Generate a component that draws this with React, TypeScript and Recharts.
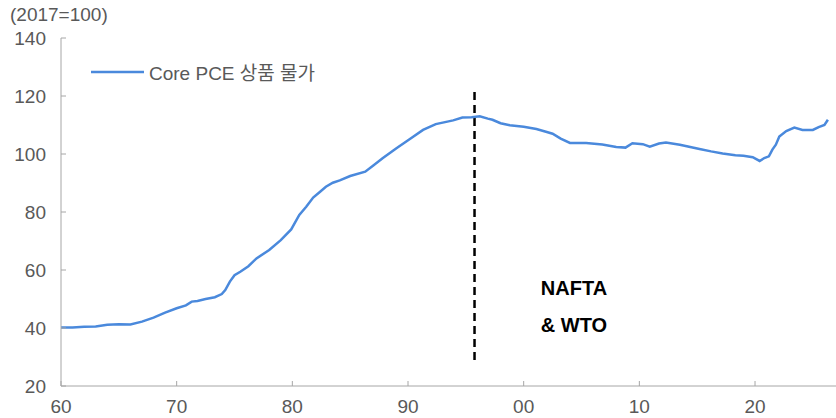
import { Legend, Line, LineChart, ReferenceLine, XAxis, YAxis } from "recharts";

// Core PCE goods price index (2017=100)
const years = [
  1960, 1961, 1962, 1963, 1964, 1965, 1966, 1967, 1968, 1969, 1970, 1970.8, 1971.3, 1971.8, 1972.5, 1973.3,
  1973.9, 1974.2, 1974.6, 1975.0, 1975.5, 1976.2, 1976.9, 1978.0, 1979.0, 1979.9, 1980.6, 1981.2, 1981.8, 1982.4,
  1982.9, 1983.5, 1984.1, 1985.0, 1986.3, 1987.0, 1987.8, 1989.0, 1990.1, 1991.3, 1992.4, 1993.2, 1993.9, 1994.7,
  1995.5, 1996.2, 1996.9, 1997.3, 1998.0, 1998.8, 2000.0, 2001.1, 2002.0, 2002.5, 2003.2, 2004.0, 2005.4, 2006.8,
  2008.0, 2008.8, 2009.4, 2010.3, 2010.9, 2011.7, 2012.3, 2013.5, 2014.3, 2015.2, 2016.2, 2017.2, 2018.3, 2019.0,
  2019.8, 2020.4, 2020.8, 2021.2, 2021.5, 2021.8, 2022.1, 2022.7, 2023.4, 2024.1, 2025.0, 2025.5, 2026.0, 2026.3,
];
const corePceGoods = [
  40.2, 40.2, 40.4, 40.5, 41.1, 41.3, 41.2, 42.2, 43.6, 45.3, 46.8, 47.8, 49.1, 49.3, 50.0, 50.6,
  51.7, 53.1, 56.0, 58.2, 59.4, 61.3, 64.0, 66.9, 70.3, 74.0, 79.0, 81.8, 85.0, 87.0,
  88.7, 90.1, 90.9, 92.4, 93.9, 96.0, 98.5, 102.0, 105.0, 108.3, 110.3, 111.0, 111.6, 112.6,
  112.7, 113.0, 112.2, 111.8, 110.6, 109.9, 109.4, 108.6, 107.6, 107.0, 105.3, 103.8, 103.8, 103.3,
  102.4, 102.2, 103.7, 103.4, 102.5, 103.6, 104.0, 103.2, 102.5, 101.7, 100.9, 100.2, 99.6, 99.4,
  98.9, 97.6, 98.6, 99.2, 101.5, 103.2, 106.0, 107.9, 109.1, 108.3, 108.3, 109.3, 110.0, 111.8,
];

const xTicks = [1960, 1970, 1980, 1990, 2000, 2010, 2020];
const xTickLabels = ["60", "70", "80", "90", "00", "10", "20"];
const yTicks = [20, 40, 60, 80, 100, 120, 140];
const seriesName = "Core PCE 상품 물가";
const eventYear = 1995.75;
const eventLabel = ["NAFTA", "& WTO"];

const data = years.map((y, i) => ({ year: y, v: corePceGoods[i] }));

const FONT = "'Liberation Sans', 'Noto Sans CJK KR', sans-serif";
const BLUE = "#4a89dc";
const AXIS = "#a6a6a6";
const TEXT = "#595959";

function LegendContent() {
  return (
    <div style={{ display: "flex", alignItems: "center", fontFamily: FONT, fontSize: 19, color: TEXT, whiteSpace: "nowrap" }}>
      <svg width={53} height={6} style={{ marginRight: 5 }}>
        <line x1={0} y1={3} x2={53} y2={3} stroke={BLUE} strokeWidth={2.5} />
      </svg>
      <span>{seriesName}</span>
    </div>
  );
}

export default function App() {
  return (
    <div style={{ position: "absolute", left: 0, top: 0, width: 836, height: 418, background: "#fff" }}>
      <div style={{ position: "absolute", left: 10, top: 4, fontFamily: FONT, fontSize: 19, color: TEXT }}>
        (2017=100)
      </div>
      <LineChart width={836} height={418} data={data} margin={{ top: 38, right: 0, bottom: 0, left: 0 }}>
        <XAxis
          dataKey="year"
          type="number"
          domain={[1960, 2027]}
          ticks={xTicks}
          tickFormatter={(v: number) => xTickLabels[xTicks.indexOf(v)]}
          height={32}
          stroke={AXIS}
          tickSize={-5}
          tickMargin={19}
          tick={{ fill: TEXT, fontSize: 19, fontFamily: FONT }}
        />
        <YAxis
          domain={[20, 140]}
          ticks={yTicks}
          width={61}
          stroke={AXIS}
          tickSize={-5}
          tickMargin={20}
          tick={{ fill: TEXT, fontSize: 19, fontFamily: FONT }}
        />
        <Legend
          layout="vertical"
          align="center"
          verticalAlign="middle"
          content={<LegendContent />}
          wrapperStyle={{ top: 58, left: 91, width: "auto" }}
        />
        <ReferenceLine
          segment={[
            { x: eventYear, y: 29 },
            { x: eventYear, y: 123 },
          ]}
          stroke="#000"
          strokeWidth={2.5}
          strokeDasharray="8 5"
        />
        <Line
          type="linear"
          dataKey="v"
          name={seriesName}
          stroke={BLUE}
          strokeWidth={2.5}
          dot={false}
          isAnimationActive={false}
        />
      </LineChart>
      {eventLabel.map((t, i) => (
        <div
          key={t}
          style={{
            position: "absolute",
            left: 474,
            width: 200,
            top: 277 + i * 37,
            textAlign: "center",
            fontFamily: FONT,
            fontWeight: "bold",
            fontSize: 20,
            color: "#000",
          }}
        >
          {t}
        </div>
      ))}
    </div>
  );
}
